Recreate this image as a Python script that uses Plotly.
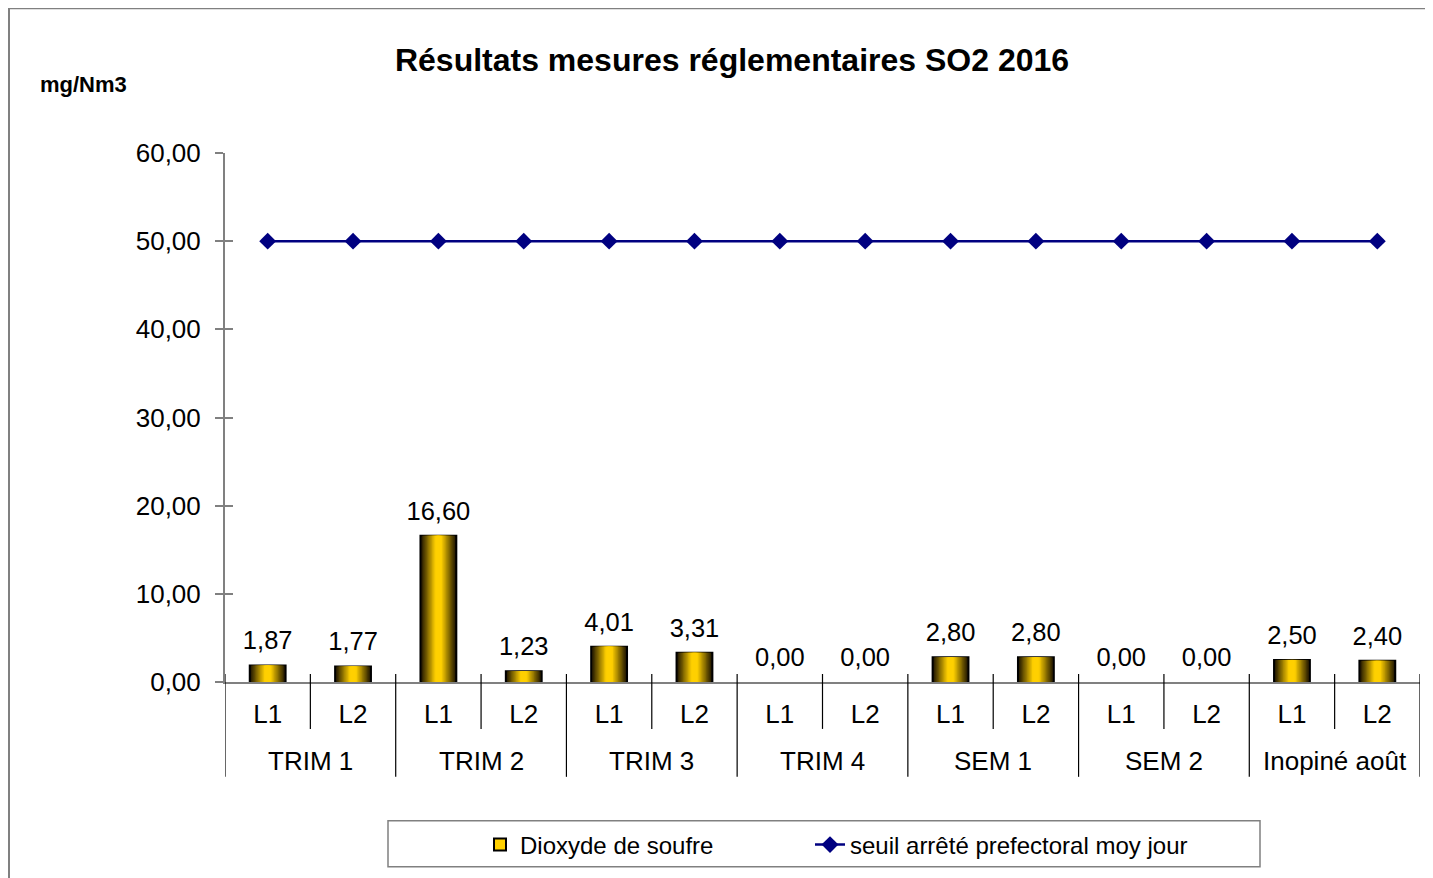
import plotly.graph_objects as go

# data
groups = ["TRIM 1", "TRIM 2", "TRIM 3", "TRIM 4", "SEM 1", "SEM 2", "Inopiné août"]
lines = ["L1", "L2"]
so2_values = [1.87, 1.77, 16.60, 1.23, 4.01, 3.31, 0.00, 0.00, 2.80, 2.80, 0.00, 0.00, 2.50, 2.40]
threshold_values = [50, 50, 50, 50, 50, 50, 50, 50, 50, 50, 50, 50, 50, 50]
y_ticks = [0, 10, 20, 30, 40, 50, 60]

sub_labels = [l for _ in groups for l in lines]
x_pos = list(range(len(sub_labels)))
n_sub = len(lines)

FONT = "Liberation Sans, Arial, sans-serif"
OFF = 8  # page body margin around the plot div
W, H = 1433 - OFF, 878 - OFF
L, R, T, B = 225 - OFF, 13, 153 - OFF, 195
pw, ph = W - L - R, H - T - B


# helpers: page pixel -> paper coordinate
def px_x(p):
    return (p - OFF - L) / pw


def px_y(p):
    return (H - B - (p - OFF)) / ph


def mix(c1, c2, t):
    return "rgb(%d,%d,%d)" % tuple(round(a + (b - a) * t) for a, b in zip(c1, c2))


fig = go.Figure()

# bars drawn as nested layers to fake the dark-gold-dark gradient
bar_w = 0.42
n_layers = 14
dark = (30, 20, 0)
gold = (255, 208, 0)
outline = [2 if v > 0 else 0 for v in so2_values]  # no outline on empty bars
for i in range(n_layers):
    frac = 1 - i / n_layers
    t = min(1.0, i / (n_layers * 0.8))
    fig.add_trace(go.Bar(
        x=x_pos, y=so2_values,
        width=bar_w * frac,
        marker=dict(color=mix(dark, gold, t),
                    line=dict(color="black", width=outline if i == 0 else 0)),
        showlegend=False, hoverinfo="skip",
    ))

# legend entry for the bars
fig.add_trace(go.Bar(
    x=x_pos, y=[None] * len(so2_values), yaxis="y2",
    name="Dioxyde de soufre", legend="legend",
    marker=dict(color="rgb(255,208,0)", line=dict(color="black", width=2)),
))

fig.add_trace(go.Scatter(
    x=x_pos, y=threshold_values,
    mode="lines+markers",
    name="seuil arrêté prefectoral moy jour", legend="legend2",
    line=dict(color="#000080", width=2.5),
    marker=dict(symbol="diamond", size=13, color="#000080"),
))

# data labels
fig.add_trace(go.Scatter(
    x=x_pos, y=so2_values,
    mode="markers+text",
    text=[f"{v:.2f}".replace(".", ",") for v in so2_values],
    textposition="top center",
    textfont=dict(family=FONT, size=25.5, color="black"),
    marker=dict(size=14, opacity=0),
    showlegend=False, hoverinfo="skip", cliponaxis=False,
))

# category boundaries: short ticks between L1/L2, long dividers between groups
shapes = []
for b in range(len(sub_labels) + 1):
    is_group = b % n_sub == 0
    shapes.append(dict(
        type="line", xref="x", yref="paper",
        x0=b - 0.5, x1=b - 0.5,
        y0=px_y(675), y1=px_y(778 if is_group else 730),
        line=dict(color="black", width=1.2),
    ))

annotations = [
    dict(text=g, xref="x", yref="paper",
         x=k * n_sub + (n_sub - 1) / 2, y=px_y(762), yanchor="middle",
         showarrow=False, font=dict(family=FONT, size=26, color="black"))
    for k, g in enumerate(groups)
]
annotations.append(
    dict(text="<b>mg/Nm3</b>", xref="paper", yref="paper",
         x=px_x(38), xanchor="left", y=px_y(84), yanchor="middle",
         showarrow=False, font=dict(family=FONT, size=22, color="black"))
)

shapes += [
    # outer chart frame
    dict(type="rect", xref="paper", yref="paper",
         x0=px_x(9), x1=px_x(1460), y0=px_y(900), y1=px_y(8),
         line=dict(color="#808080", width=2), fillcolor="rgba(0,0,0,0)", layer="below"),
    # legend frame
    dict(type="rect", xref="paper", yref="paper",
         x0=px_x(388), x1=px_x(1260), y0=px_y(868), y1=px_y(822),
         line=dict(color="#808080", width=1.5), fillcolor="rgba(0,0,0,0)"),
]

legend_style = dict(
    orientation="h", yanchor="middle", y=px_y(845), xanchor="left",
    bgcolor="rgba(0,0,0,0)", borderwidth=0,
    font=dict(family=FONT, size=24, color="black"),
)

fig.update_layout(
    width=W, height=H,
    margin=dict(l=L, r=R, t=T, b=B, pad=0),
    paper_bgcolor="white", plot_bgcolor="white",
    barmode="overlay",
    separators=", ",
    font=dict(family=FONT, size=26, color="black"),
    title=dict(text="<b>Résultats mesures réglementaires SO2 2016</b>",
               x=px_x(732), xref="paper", xanchor="center",
               y=1 - (60 - OFF) / H, yanchor="middle",
               font=dict(family=FONT, size=32, color="black")),
    xaxis=dict(
        range=[-0.5, len(sub_labels) - 0.5],
        tickmode="array", tickvals=x_pos, ticktext=sub_labels,
        showline=True, linecolor="#808080", linewidth=2,
        ticks="", ticklabelstandoff=8,
        showgrid=False, zeroline=False,
        tickfont=dict(family=FONT, size=26, color="black"),
    ),
    yaxis=dict(
        range=[0, 60], tickvals=y_ticks, tickformat=".2f",
        showline=True, linecolor="#808080", linewidth=2,
        ticks="outside", ticklen=8, tickcolor="#808080", tickwidth=2,
        ticklabelstandoff=9,
        showgrid=False, zeroline=False,
        tickfont=dict(family=FONT, size=26, color="black"),
    ),
    yaxis2=dict(
        overlaying="y", side="left", anchor="x",
        range=[0, 60], tickvals=y_ticks,
        ticks="inside", ticklen=8, tickcolor="#808080", tickwidth=2,
        showticklabels=False, showline=False, showgrid=False, zeroline=False,
    ),
    legend=dict(legend_style, x=px_x(480)),
    legend2=dict(legend_style, x=px_x(810)),
    shapes=shapes,
    annotations=annotations,
)

fig.write_html("out.html")
